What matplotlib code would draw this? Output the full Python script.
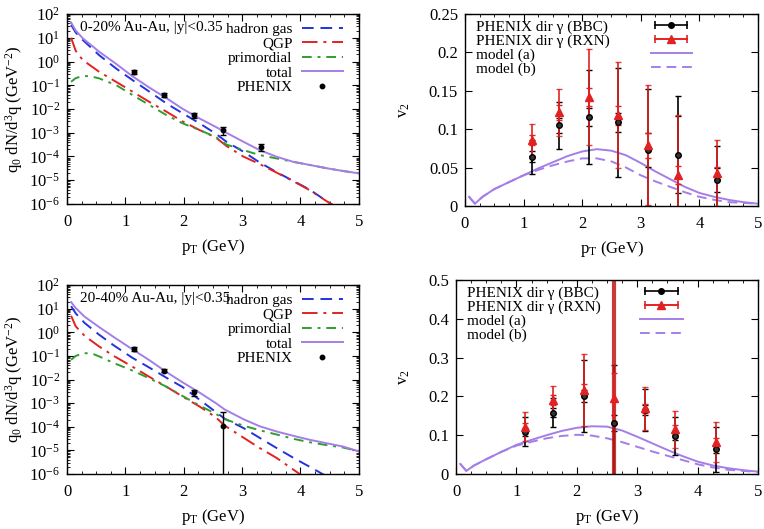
import numpy as np
import matplotlib
matplotlib.use("Agg")
import matplotlib.pyplot as plt
from matplotlib.lines import Line2D
from matplotlib.legend_handler import HandlerLine2D, HandlerTuple
from matplotlib.ticker import LogLocator, MultipleLocator, FormatStrFormatter, NullFormatter

plt.rcParams['font.family'] = ['Liberation Serif', 'DejaVu Serif']
plt.rcParams['mathtext.fontset'] = 'custom'
plt.rcParams['mathtext.rm'] = 'Liberation Serif'
plt.rcParams['mathtext.it'] = 'Liberation Serif:italic'
plt.rcParams['mathtext.bf'] = 'Liberation Serif:bold'

# ---------------- data: spectra 0-20% ----------------
pt_020 = [0.07, 0.15, 0.27, 0.55, 0.84, 1.12, 1.41, 1.70, 1.98, 2.27, 2.55, 2.73,
          3.02, 3.30, 3.59, 3.87, 4.16, 4.45, 4.73, 5.0]
hadron_020 = [35, 16.6, 8.1, 1.86, 0.51, 0.166, 0.054, 0.0174, 0.0066, 0.0025, 9.1e-4,
              4.2e-4, 1.6e-4, 5.6e-5, 2.2e-5, 9.5e-6, 4.0e-6, 1.3e-6, 5e-7, 2e-7]
qgp_020 = [10, 2.8, 1.15, 0.37, 0.14, 0.054, 0.020, 0.0078, 0.0030, 0.0013, 6.3e-4,
           2.8e-4, 1.0e-4, 4.8e-5, 2.1e-5, 9.3e-6, 3.8e-6, 1.3e-6, 5e-7, 2e-7]
total_020 = [44, 20, 9.5, 2.6, 0.80, 0.24, 0.080, 0.029, 0.0102, 0.0040, 0.00175, 0.0010,
             4.2e-4, 1.86e-4, 9.8e-5, 6.0e-5, 4.4e-5, 3.2e-5, 2.45e-5, 1.95e-5]
pt_prim_020 = [0.07, 0.15, 0.27, 0.4, 0.55, 0.84, 1.12, 1.41, 1.70, 1.98, 2.27, 2.55, 2.73,
               3.02, 3.30, 3.59, 3.87, 4.16, 4.45, 4.73, 5.0]
prim_020 = [0.14, 0.20, 0.245, 0.24, 0.195, 0.102, 0.039, 0.0148, 0.0056, 0.0025, 0.0013,
            6.6e-4, 3.2e-4, 1.86e-4, 1.15e-4, 8.3e-5, 6.0e-5, 4.4e-5, 3.2e-5, 2.45e-5, 1.95e-5]
phx_pt_020 = [1.15, 1.67, 2.18, 2.68, 3.32]
phx_020 = [0.37, 0.039, 0.0056, 0.0013, 2.6e-4]
phx_err_020 = [0.07, 0.008, 0.0015, 0.0005, 0.9e-4]

# ---------------- data: spectra 20-40% ----------------
pt_2040 = [0.07, 0.15, 0.3, 0.55, 0.8, 1.12, 1.41, 1.70, 1.98, 2.27, 2.55, 2.70,
           3.02, 3.30, 3.59, 3.9, 4.16, 4.45, 4.73, 5.0]
hadron_2040 = [12.6, 6.3, 2.5, 0.79, 0.28, 0.083, 0.032, 0.012, 0.0048, 0.0014, 4.2e-4,
               2.2e-4, 8.9e-5, 3.4e-5, 1.26e-5, 4.5e-6, 2.0e-6, 7.9e-7, 3.2e-7, 1.26e-7]
qgp_2040 = [5.0, 1.78, 0.71, 0.25, 0.10, 0.035, 0.013, 0.005, 0.0019, 7.2e-4, 2.5e-4,
            1.12e-4, 3.5e-5, 1.26e-5, 4.8e-6, 1.4e-6, 5e-7, 2e-7, 8e-8, 3e-8]
total_2040 = [19, 10.5, 4.6, 1.66, 0.63, 0.19, 0.066, 0.021, 0.0076, 0.0028, 0.0010,
              5.4e-4, 2.1e-4, 1.05e-4, 6.3e-5, 4.0e-5, 2.8e-5, 2.0e-5, 1.45e-5, 9.1e-6]
pt_prim_2040 = [0.07, 0.15, 0.3, 0.45, 0.55, 0.8, 1.12, 1.41, 1.70, 1.98, 2.27, 2.55, 2.70,
                3.02, 3.30, 3.59, 3.9, 4.16, 4.45, 4.73, 5.0]
prim_2040 = [0.068, 0.10, 0.132, 0.12, 0.095, 0.05, 0.024, 0.0112, 0.005, 0.002, 7.9e-4,
             3.5e-4, 2.1e-4, 1.12e-4, 7.1e-5, 4.7e-5, 3.0e-5, 2.2e-5, 1.66e-5, 1.32e-5, 9.1e-6]
phx_pt_2040 = [1.15, 1.67, 2.18, 2.68]
phx_2040 = [0.20, 0.024, 0.0029, 1.05e-4]
phx_err_lo_2040 = [0.035, 0.004, 0.0008, 1.0499e-4]
phx_err_hi_2040 = [0.035, 0.004, 0.0008, 3.0e-4]

# ---------------- data: v2 ----------------
v2_pt = [1.15, 1.6, 2.12, 2.62, 3.13, 3.63, 4.3]
bbc_020 = [0.064, 0.105, 0.116, 0.109, 0.073, 0.067, 0.034]
bbc_err_020 = [0.022, 0.031, 0.061, 0.071, 0.080, 0.076, 0.044]
bbc_sys_020 = [0.007, 0.010, 0.012, 0.012, 0.022, 0.050, 0.016]
rxn_020 = [0.086, 0.122, 0.142, 0.118, 0.079, 0.040, 0.043]
rxn_err_020 = [0.021, 0.031, 0.062, 0.069, 0.078, 0.078, 0.043]
rxn_sys_020 = [0.007, 0.010, 0.012, 0.012, 0.016, 0.012, 0.008]

bbc_2040 = [0.109, 0.158, 0.201, 0.132, 0.165, 0.098, 0.064]
bbc_err_2040 = [0.038, 0.037, 0.094, 0.150, 0.055, 0.048, 0.058]
bbc_sys_2040 = [0.010, 0.012, 0.015, 0.020, 0.012, 0.010, 0.010]
rxn_2040 = [0.122, 0.191, 0.216, 0.195, 0.169, 0.115, 0.083]
rxn_err_2040 = [0.038, 0.037, 0.092, 0.600, 0.056, 0.048, 0.052]
rxn_sys_2040 = [0.010, 0.012, 0.015, 0.065, 0.012, 0.010, 0.010]

model_pt = [0.07, 0.17, 0.3, 0.5, 0.75, 1.0, 1.25, 1.5, 1.75, 2.0, 2.25, 2.5, 2.75,
            3.0, 3.25, 3.5, 3.75, 4.0, 4.25, 4.5, 4.75, 5.0]
model_a_020 = [0.012, 0.003, 0.012, 0.022, 0.031, 0.040, 0.049, 0.057, 0.065, 0.071, 0.074,
               0.072, 0.066, 0.056, 0.045, 0.035, 0.025, 0.017, 0.012, 0.008, 0.005, 0.003]
model_b_020 = [0.012, 0.003, 0.012, 0.022, 0.031, 0.040, 0.047, 0.053, 0.058, 0.062, 0.062,
               0.058, 0.050, 0.040, 0.032, 0.025, 0.018, 0.012, 0.008, 0.005, 0.004, 0.003]
model_a_2040 = [0.026, 0.008, 0.022, 0.038, 0.057, 0.075, 0.088, 0.100, 0.111, 0.119, 0.123,
                0.122, 0.112, 0.096, 0.079, 0.062, 0.046, 0.032, 0.022, 0.015, 0.010, 0.006]
model_b_2040 = [0.026, 0.008, 0.022, 0.038, 0.057, 0.073, 0.083, 0.092, 0.098, 0.101, 0.099,
                0.092, 0.082, 0.070, 0.058, 0.047, 0.036, 0.025, 0.017, 0.011, 0.008, 0.005]

# ---------------- styles ----------------
C_BLUE = '#2233dd'
C_RED = '#e22222'
C_GREEN = '#2f9e2f'
C_VIOLET = '#a47ee8'
FS_TICK = 12
FS_LAB = 12

fig = plt.figure(figsize=(7.64, 5.29), dpi=100)
ax_tl = fig.add_axes([0.0877, 0.6144, 0.382, 0.3591])
ax_tr = fig.add_axes([0.6086, 0.6106, 0.3835, 0.3629])
ax_bl = fig.add_axes([0.0877, 0.1040, 0.382, 0.3572])
ax_br = fig.add_axes([0.5969, 0.1040, 0.3953, 0.3667])


def style_axes(ax):
    ax.tick_params(which='both', direction='in', top=True, right=True, labelsize=FS_TICK)
    ax.tick_params(which='major', length=5, width=0.8)
    ax.tick_params(which='minor', length=2.5, width=0.6)
    ax.tick_params(axis='x', pad=7)
    ax.tick_params(axis='y', pad=5)
    for s in ax.spines.values():
        s.set_linewidth(1.0)
    ax.set_xlim(0, 5)
    ax.xaxis.set_major_locator(MultipleLocator(1))
    ax.xaxis.set_minor_locator(MultipleLocator(0.25))
    ax.set_xlabel(r'p$_{\mathrm{T}}$ (GeV)', fontsize=FS_LAB, labelpad=5)


def spectra_panel(ax, pt, hadron, qgp, pt_prim, prim, total, px, py, yerr, label):
    ax.set_yscale('log')
    ax.set_ylim(1e-6, 1e2)
    style_axes(ax)
    ax.yaxis.set_major_locator(LogLocator(base=10, numticks=20))
    ax.yaxis.set_minor_locator(LogLocator(base=10, subs=np.arange(2, 10), numticks=20))
    ax.yaxis.set_minor_formatter(NullFormatter())
    ax.set_ylabel(r'q$_0$ dN/d$^3$q (GeV$^{-2}$)', fontsize=FS_LAB, labelpad=3)
    h1, = ax.plot(pt, hadron, color=C_BLUE, lw=1.4, ls=(0, (6, 3.5)))
    h2, = ax.plot(pt, qgp, color=C_RED, lw=1.4, ls=(0, (8, 3, 1.5, 3)))
    h3, = ax.plot(pt_prim, prim, color=C_GREEN, lw=1.4, ls=(0, (5, 3, 1.5, 3)))
    h4, = ax.plot(pt, total, color=C_VIOLET, lw=1.4)
    eb = ax.errorbar(px, py, yerr=yerr, fmt='o', color='black', ms=3.2, capsize=2,
                     elinewidth=1.0, capthick=1.0)
    ax.legend([h1, h2, h3, h4, eb[0]], ['hadron gas', 'QGP', 'primordial', 'total', 'PHENIX'],
              loc='upper right', bbox_to_anchor=(0.982, 1.012), markerfirst=False, frameon=False,
              fontsize=11, labelspacing=0.05, handlelength=2.7, handletextpad=0.6,
              borderaxespad=0.3, numpoints=1)
    ax.text(0.045, 0.928, label, transform=ax.transAxes, fontsize=11, ha='left', va='center')


spectra_panel(ax_tl, pt_020, hadron_020, qgp_020, pt_prim_020, prim_020, total_020,
              phx_pt_020, phx_020, phx_err_020, '0-20% Au-Au, |y|<0.35')
spectra_panel(ax_bl, pt_2040, hadron_2040, qgp_2040, pt_prim_2040, prim_2040, total_2040,
              phx_pt_2040, phx_2040, [phx_err_lo_2040, phx_err_hi_2040], '20-40% Au-Au, |y|<0.35')


def v2_panel(ax, ymax, ystep, bbc, bbc_err, bbc_sys, rxn, rxn_err, rxn_sys, ma, mb,
             big_idx=None, leg_x=0.59, text_x=0.035, hl=2.7):
    style_axes(ax)
    ax.set_ylim(0, ymax)
    ax.yaxis.set_major_locator(MultipleLocator(ystep))
    ax.yaxis.set_major_formatter(FormatStrFormatter('%g'))
    ax.set_ylabel(r'v$_2$', fontsize=FS_LAB, labelpad=12)
    la, = ax.plot(model_pt, ma, color=C_VIOLET, lw=1.4)
    lb, = ax.plot(model_pt, mb, color=C_VIOLET, lw=1.4, ls=(0, (5, 3)))
    ax.errorbar(v2_pt, bbc, yerr=bbc_err, fmt='none', ecolor='black', elinewidth=1.2,
                capsize=2, capthick=1.0)
    ax.errorbar(v2_pt, bbc, yerr=bbc_sys, fmt='o', color='black', ms=4, elinewidth=1.2,
                capsize=2, capthick=1.0, mfc='#333333')
    e_r = ax.errorbar(v2_pt, rxn, yerr=rxn_err, fmt='none', ecolor=C_RED, elinewidth=1.4,
                      capsize=2, capthick=1.0, alpha=0.85)
    if big_idx is not None:
        lws = [1.4] * len(v2_pt)
        lws[big_idx] = 3.0
        e_r[2][0].set_linewidths(lws)
        cols = [C_RED] * len(v2_pt)
        cols[big_idx] = '#c01818'
        e_r[2][0].set_colors(cols)
    ax.errorbar(v2_pt, rxn, yerr=rxn_sys, fmt='^', color=C_RED, ms=6, elinewidth=1.4,
                capsize=2, capthick=1.0)
    # legend handles (samples only)
    cap_k = Line2D([], [], color='black', lw=1.2, marker='|', ms=6, mew=1.2)
    dot_k = Line2D([], [], color='black', ls='none', marker='o', ms=4)
    cap_r = Line2D([], [], color=C_RED, lw=1.4, marker='|', ms=6, mew=1.2)
    tri_r = Line2D([], [], color=C_RED, ls='none', marker='^', ms=6)
    hm = {cap_k: HandlerLine2D(numpoints=2), cap_r: HandlerLine2D(numpoints=2),
          dot_k: HandlerLine2D(numpoints=1), tri_r: HandlerLine2D(numpoints=1)}
    labels = ['PHENIX dir γ (BBC)', 'PHENIX dir γ (RXN)', 'model (a)', 'model (b)']
    blanks = [Line2D([], [], ls='none')] * 4
    leg1 = ax.legend(blanks, labels, loc='upper left', bbox_to_anchor=(text_x - 0.035, 1.025),
                     frameon=False, fontsize=11, labelspacing=0.02, handlelength=0,
                     handletextpad=0.0, borderaxespad=0.3)
    ax.add_artist(leg1)
    ax.legend([(cap_k, dot_k), (cap_r, tri_r), la, lb], ['', '', '', ''],
              loc='upper left', bbox_to_anchor=(leg_x, 1.025), frameon=False,
              fontsize=11, labelspacing=0.02, handlelength=hl, handletextpad=0.0,
              borderaxespad=0.3, handler_map={**hm, tuple: HandlerTuple(ndivide=1)})


v2_panel(ax_tr, 0.25, 0.05, bbc_020, bbc_err_020, bbc_sys_020, rxn_020, rxn_err_020,
         rxn_sys_020, model_a_020, model_b_020, leg_x=0.597, hl=2.7)
v2_panel(ax_br, 0.5, 0.1, bbc_2040, bbc_err_2040, bbc_sys_2040, rxn_2040, rxn_err_2040,
         rxn_sys_2040, model_a_2040, model_b_2040, big_idx=3, leg_x=0.574, hl=2.8)

fig.savefig('out.png', dpi=100)
